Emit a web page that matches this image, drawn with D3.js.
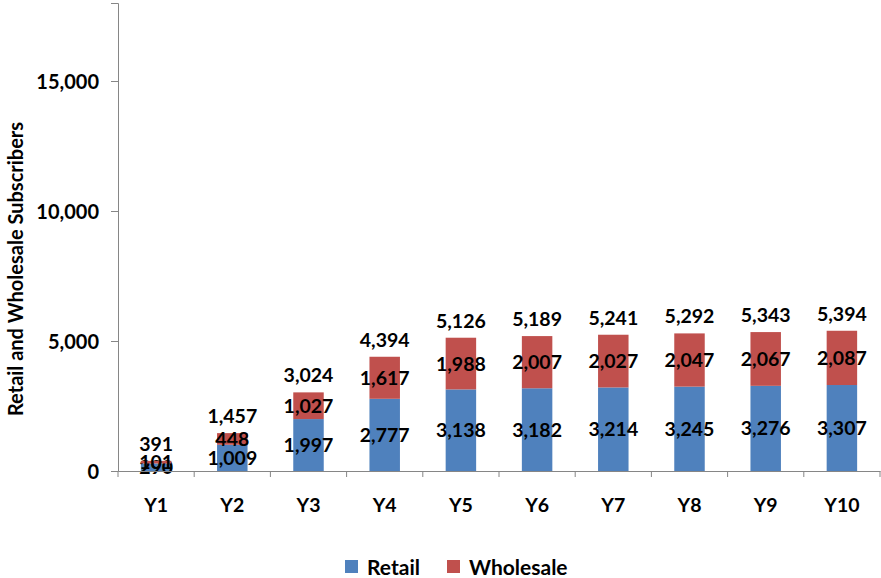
<!DOCTYPE html>
<html>
<head>
<meta charset="utf-8">
<script src="https://cdn.jsdelivr.net/npm/d3@7"></script>
<style>
  body { margin: 0; background: #fff; }
  text { font-family: Lato, "Open Sans", sans-serif; font-weight: bold; fill: #000; }
</style>
</head>
<body>
<script>
var years = ['Y1', 'Y2', 'Y3', 'Y4', 'Y5', 'Y6', 'Y7', 'Y8', 'Y9', 'Y10'];
var retail = [290, 1009, 1997, 2777, 3138, 3182, 3214, 3245, 3276, 3307];
var wholesale = [101, 448, 1027, 1617, 1988, 2007, 2027, 2047, 2067, 2087];
var totals = [391, 1457, 3024, 4394, 5126, 5189, 5241, 5292, 5343, 5394];
var yTicks = [0, 5000, 10000, 15000];
var seriesNames = ['Retail', 'Wholesale'];
var colors = ['#4F81BD', '#C0504D'];

var W = 881, H = 578;
var margin = { top: 3, right: 1, bottom: 107, left: 118 };
var width = W - margin.left - margin.right;
var height = H - margin.top - margin.bottom;

var rows = years.map(function (y, i) {
  return { year: y, Retail: retail[i], Wholesale: wholesale[i], total: totals[i] };
});

var svg = d3.select('body').append('svg').attr('width', W).attr('height', H);
var g = svg.append('g').attr('transform', 'translate(' + margin.left + ',' + margin.top + ')');

var x = d3.scaleBand().domain(years).range([0, width]).paddingInner(0.6).paddingOuter(0.3);
var y = d3.scaleLinear().domain([0, 18000]).range([height, 0]);
var fmt = d3.format(',');

var stack = d3.stack().keys(seriesNames)(rows);

// bars
var layers = g.selectAll('.layer').data(stack).enter().append('g')
  .attr('fill', function (d, i) { return colors[i]; });

layers.selectAll('rect').data(function (d) { return d; }).enter().append('rect')
  .attr('x', function (d) { return x(d.data.year); })
  .attr('y', function (d) { return y(d[1]); })
  .attr('width', x.bandwidth())
  .attr('height', function (d) { return y(d[0]) - y(d[1]); });

// axes
var step = x.step();
var yAxis = g.append('g').call(d3.axisLeft(y).tickValues(yTicks).tickSize(7).tickPadding(12).tickFormat(fmt));
var xAxis = g.append('g').attr('transform', 'translate(0,' + height + ')')
  .call(d3.axisBottom(x).tickSize(0).tickPadding(27));

// category boundary ticks
g.selectAll('.xtick').data(d3.range(years.length + 1)).enter().append('line')
  .attr('x1', function (i) { return i * step; })
  .attr('x2', function (i) { return i * step; })
  .attr('y1', height).attr('y2', height + 6)
  .attr('stroke', '#868686');

svg.selectAll('.domain').attr('stroke', '#868686');
svg.selectAll('.tick line').attr('stroke', '#868686');
svg.selectAll('.tick text').style('font-size', '19.5px').style('font-family', 'Lato, sans-serif').style('font-weight', 'bold').attr('fill', '#000');
yAxis.selectAll('.tick text').attr('dy', '0.36em').style('font-size', '20px');

// segment labels
layers.selectAll('.lbl').data(function (d) { return d; }).enter().append('text')
  .attr('x', function (d) { return x(d.data.year) + x.bandwidth() / 2; })
  .attr('y', function (d) { return y((d[0] + d[1]) / 2); })
  .attr('dy', '0.36em')
  .attr('text-anchor', 'middle')
  .style('font-size', '19.5px')
  .text(function (d) { return fmt(d[1] - d[0]); });

// total labels
g.selectAll('.tot').data(rows).enter().append('text')
  .attr('x', function (d) { return x(d.year) + x.bandwidth() / 2; })
  .attr('y', function (d) { return y(d.total) - 10; })
  .attr('text-anchor', 'middle')
  .style('font-size', '19.5px')
  .text(function (d) { return fmt(d.total); });

// y title
svg.append('text')
  .attr('transform', 'translate(23,' + (margin.top + height / 2 + 32) + ') rotate(-90)')
  .attr('text-anchor', 'middle')
  .style('font-size', '20px')
  .text('Retail and Wholesale Subscribers');

// legend
var legend = svg.append('g').attr('transform', 'translate(345,560)');
var lx = [0, 102];
seriesNames.forEach(function (name, i) {
  legend.append('rect').attr('x', lx[i]).attr('y', 0).attr('width', 13).attr('height', 13).attr('fill', colors[i]);
  legend.append('text').attr('x', lx[i] + 22).attr('y', 7).attr('dy', '0.36em')
    .style('font-size', '21px').text(name);
});
</script>
</body>
</html>
